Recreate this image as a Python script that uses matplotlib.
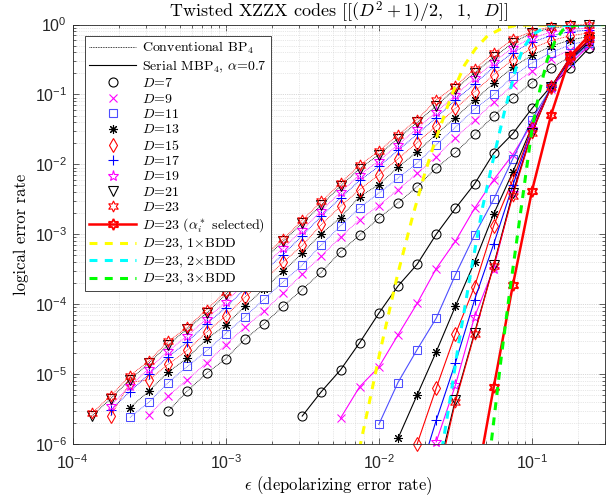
import numpy as np
import matplotlib.pyplot as plt
from matplotlib.lines import Line2D
from matplotlib.ticker import LogLocator, NullFormatter

# depolarizing error rates used in the simulations (8 points per decade)
eps_grid = [1.334e-4, 1.778e-4, 2.371e-4, 3.162e-4, 4.217e-4, 5.623e-4, 7.499e-4,
            1.0e-3, 1.334e-3, 1.778e-3, 2.371e-3, 3.162e-3, 4.217e-3, 5.623e-3, 7.499e-3,
            1.0e-2, 1.334e-2, 1.778e-2, 2.371e-2, 3.162e-2, 4.217e-2, 5.623e-2, 7.499e-2,
            0.1, 0.1334, 0.1778, 0.2371]

distances = [7, 9, 11, 13, 15, 17, 19, 21, 23]

# conventional BP4: (first grid index, log10 logical error rate)
conv_7 = (5, [-5.53, -5.24, -4.99, -4.78, -4.50, -4.28, -4.03, -3.79, -3.54, -3.25, -3.01, -2.77,
              -2.55, -2.32, -2.05, -1.83, -1.57, -1.31, -1.05, -0.83, -0.62, -0.46, -0.34])
conv_9 = (4, [-5.58, -5.31, -5.08, -4.84, -4.58, -4.33, -4.10, -3.84, -3.57, -3.31, -3.04, -2.79,
              -2.59, -2.36, -2.13, -1.89, -1.62, -1.37, -1.11, -0.86, -0.67, -0.49, -0.36, -0.28])
conv_11 = (3, [-5.62, -5.40, -5.12, -4.89, -4.67, -4.42, -4.18, -3.93, -3.68, -3.44, -3.15, -2.88,
               -2.62, -2.41, -2.20, -1.98, -1.72, -1.47, -1.21, -1.00, -0.74, -0.55, -0.40, -0.29, -0.22])
conv_13 = (3, [-5.48, -5.24, -4.97, -4.77, -4.50, -4.30, -4.03, -3.78, -3.53, -3.27, -2.99, -2.76,
               -2.46, -2.29, -2.04, -1.82, -1.57, -1.33, -1.08, -0.84, -0.61, -0.44, -0.31, -0.22, -0.17])
conv_15 = (2, [-5.60, -5.12, -5.08, -4.86, -4.66, -4.40, -4.17, -3.90, -3.66, -3.40, -3.16, -2.86,
               -2.60, -2.36, -2.15, -1.92, -1.69, -1.45, -1.20, -0.96, -0.72, -0.50, -0.34, -0.23,
               -0.16, -0.12])
conv_17 = (2, [-5.51, -5.25, -5.00, -4.75, -4.54, -4.28, -4.05, -3.78, -3.53, -3.29, -3.02, -2.74,
               -2.48, -2.23, -2.03, -1.80, -1.57, -1.33, -1.08, -0.85, -0.61, -0.40, -0.25, -0.16,
               -0.10, -0.08])
conv_19 = (2, [-5.45, -5.17, -4.92, -4.67, -4.45, -4.21, -3.97, -3.70, -3.45, -3.20, -2.94, -2.66,
               -2.40, -2.15, -1.95, -1.72, -1.49, -1.25, -1.01, -0.77, -0.54, -0.33, -0.19, -0.11,
               -0.07, -0.05])
conv_21 = (1, [-5.60, -5.35, -5.08, -4.84, -4.58, -4.35, -4.13, -3.86, -3.62, -3.36, -3.10, -2.84,
               -2.58, -2.31, -2.06, -1.86, -1.63, -1.40, -1.16, -0.92, -0.69, -0.47, -0.26, -0.12,
               -0.05, -0.02, -0.01])
conv_23 = (1, [-5.56, -5.31, -5.02, -4.81, -4.53, -4.33, -4.08, -3.82, -3.58, -3.31, -3.07, -2.80,
               -2.53, -2.27, -2.01, -1.81, -1.58, -1.36, -1.08, -0.88, -0.64, -0.41, -0.21, -0.10,
               -0.03, -0.01, 0.0])

# serial MBP4, alpha = 0.7
mbp_7 = (12, [-5.60, -5.25, -4.94, -4.55, -4.13, -3.74, -3.43, -3.00, -2.63, -2.28, -1.84, -1.56,
              -1.20, -0.88, -0.62, -0.33])
mbp_9 = (14, [-5.63, -5.18, -4.90, -4.44, -3.99, -3.49, -3.10, -2.63, -2.22, -1.86, -1.42, -0.92,
              -0.56, -0.30])
mbp_11 = (16, [-5.72, -5.12, -4.65, -4.20, -3.58, -3.01, -2.50, -1.92, -1.36, -0.90, -0.52, -0.27])
mbp_13 = (17, [-5.92, -5.30, -4.68, -4.03, -3.40, -2.71, -2.11, -1.46, -0.90, -0.50, -0.25])
mbp_15 = (18, [-6.0, -5.20, -4.43, -3.75, -2.88, -2.22, -1.48, -0.90, -0.48, -0.22])
mbp_17 = (18, [-6.55, -5.66, -4.84, -3.94, -3.14, -2.30, -1.50, -0.90, -0.48, -0.22])
mbp_19 = (19, [-5.97, -5.16, -4.18, -3.49, -2.41, -1.50, -0.90, -0.47, -0.22])
mbp_21 = (19, [-6.5, -5.37, -4.41, -3.44, -2.41, -1.55, -0.89, -0.47, -0.22])
mbp_23 = (19, [-6.6, -5.40, -4.43, -3.45, -2.45, -1.55, -0.90, -0.46, -0.21])

# D=23 with alpha_i* selected
sel_23 = (21, [-6.7, -5.19, -3.73, -2.38, -1.29, -0.45, -0.15])

# BDD reference curves (log10 eps, log10 error rate)
bdd1_x = [-2.16, -2.12, -2.05, -1.99, -1.88, -1.78, -1.70, -1.64, -1.56, -1.50, -1.44, -1.37,
          -1.29, -1.20, -1.10, -0.52]
bdd1_y = [-6.5, -6.0, -5.28, -4.66, -3.60, -2.75, -2.13, -1.72, -1.22, -0.88, -0.58, -0.35,
          -0.16, -0.06, -0.01, 0.0]
bdd2_x = [-1.62, -1.584, -1.53, -1.486, -1.40, -1.322, -1.25, -1.18, -1.104, -1.06, -1.00, -0.90, -0.52]
bdd2_y = [-6.5, -6.02, -5.30, -4.66, -3.55, -2.61, -1.90, -1.25, -0.62, -0.35, -0.15, -0.02, 0.0]
bdd3_x = [-1.30, -1.268, -1.20, -1.15, -1.10, -1.05, -1.00, -0.95, -0.90, -0.85, -0.80, -0.72, -0.52]
bdd3_y = [-6.6, -6.02, -4.75, -3.90, -3.10, -2.30, -1.50, -0.95, -0.50, -0.24, -0.08, -0.01, 0.0]

conv_sets = [conv_7, conv_9, conv_11, conv_13, conv_15, conv_17, conv_19, conv_21, conv_23]
mbp_sets = [mbp_7, mbp_9, mbp_11, mbp_13, mbp_15, mbp_17, mbp_19, mbp_21, mbp_23]

hexagram = (6, 1, 0)
markers = ['o', 'x', 's', (8, 2, 0), 'd', '+', '*', 'v', hexagram]
msizes = [6.5, 6, 6, 6.5, 7.5, 7, 8, 6.5, 8]
colors = ['k', (1, 0, 1), (0.3, 0.3, 1), 'k', (1, 0, 0), (0, 0, 1), (1, 0, 1), 'k', (1, 0, 0)]

plt.rcParams['font.family'] = 'serif'
plt.rcParams['font.serif'] = ['cmr10']
plt.rcParams['mathtext.fontset'] = 'cm'
plt.rcParams['axes.unicode_minus'] = False
plt.rcParams['mathtext.rm'] = 'Liberation Sans'
plt.rcParams['mathtext.it'] = 'Liberation Sans:italic'
plt.rcParams['mathtext.bf'] = 'Liberation Sans:bold'


def series(s):
    start, vals = s
    x = eps_grid[start - 1:start - 1 + len(vals)]
    return x, 10.0 ** np.array(vals), min(vals) >= -6.0


fig = plt.figure(figsize=(6.13, 5.04), dpi=100)
ax = fig.add_axes([0.1183, 0.119, 0.8687, 0.8323])
ax.set_xscale('log')
ax.set_yscale('log')

for i, d in enumerate(distances):
    x, y, inside = series(conv_sets[i])
    ax.plot(x, y, ls=(0, (1, 1)), lw=0.6, color=colors[i], marker=markers[i], ms=msizes[i],
            mfc='none', mew=0.75, clip_on=False)
    x, y, inside = series(mbp_sets[i])
    ax.plot(x, y, ls='-', lw=0.8, color=colors[i], marker=markers[i], ms=msizes[i],
            mfc='none', mew=0.75, clip_on=not inside)

x, y, inside = series(sel_23)
ax.plot(x, y, '-', lw=1.8, color='r', marker=hexagram, ms=8, mfc='none', mew=1.3)

bdd_colors = [(1, 1, 0), (0, 1, 1), (0, 1, 0)]
for bx, by, c in zip([bdd1_x, bdd2_x, bdd3_x], [bdd1_y, bdd2_y, bdd3_y], bdd_colors):
    ax.plot(10.0 ** np.array(bx), 10.0 ** np.array(by), color=c, lw=2.2, dashes=(2.6, 2.4))

ax.set_xlim(1e-4, 0.3)
ax.set_ylim(1e-6, 1)

ax.set_xticks([1e-4, 1e-3, 1e-2, 1e-1])
ax.set_xticklabels([r'$10^{-4}$', r'$10^{-3}$', r'$10^{-2}$', r'$10^{-1}$'],
                   math_fontfamily='custom', fontsize=11.5)
ax.set_yticks([1e-6, 1e-5, 1e-4, 1e-3, 1e-2, 1e-1, 1])
ax.set_yticklabels([r'$10^{-6}$', r'$10^{-5}$', r'$10^{-4}$', r'$10^{-3}$', r'$10^{-2}$',
                    r'$10^{-1}$', r'$10^{0}$'], math_fontfamily='custom', fontsize=11.5)
for axis in (ax.xaxis, ax.yaxis):
    axis.set_minor_locator(LogLocator(base=10, subs=np.arange(2, 10), numticks=20))
    axis.set_minor_formatter(NullFormatter())
ax.tick_params(which='both', direction='in', top=True, right=True, width=0.5, colors='0.15')
ax.tick_params(which='major', length=4)
ax.tick_params(which='minor', length=2)
ax.tick_params(axis='x', which='major', pad=7)
ax.tick_params(axis='y', which='major', pad=4)
ax.grid(True, which='major', ls=':', lw=0.5, color='0.7')
ax.grid(True, which='minor', ls=':', lw=0.5, color='0.82')
for sp in ax.spines.values():
    sp.set_linewidth(0.6)
    sp.set_color('0.15')

ax.set_title(r'Twisted XZZX codes $[[(D^2+1)/2,\ \ 1,\ \ D]]$', fontsize=13, pad=4)
ax.set_xlabel(r'$\epsilon$ (depolarizing error rate)', fontsize=12, labelpad=1)
ax.set_ylabel('logical error rate', fontsize=12, labelpad=4)

handles = [Line2D([], [], color='k', lw=0.6, ls=(0, (1, 1))),
           Line2D([], [], color='k', lw=0.8, ls='-')]
labels = [r'Conventional BP$_4$', r'Serial MBP$_4$, $\alpha$=0.7']
for i, d in enumerate(distances):
    handles.append(Line2D([], [], ls='none', color=colors[i], marker=markers[i], ms=msizes[i],
                          mfc='none', mew=0.8))
    labels.append(r'$D$=%d' % d)
handles.append(Line2D([], [], color='r', lw=1.8, marker=hexagram, ms=8, mfc='none', mew=1.3))
labels.append(r'$D$=23 ($\alpha_i^*$ selected)')
for k, c in enumerate(bdd_colors):
    handles.append(Line2D([], [], color=c, lw=2.2, dashes=(2.6, 2.4)))
    labels.append(r'$D$=23, %d$\times$BDD' % (k + 1))

leg = ax.legend(handles, labels, loc='upper left', bbox_to_anchor=(0.0235, 0.973),
                borderaxespad=0, fontsize=10, handlelength=3.4, handletextpad=0.4,
                labelspacing=0.17, borderpad=0.3, fancybox=False, framealpha=1,
                edgecolor='0.15')
leg.get_frame().set_linewidth(0.6)

fig.savefig('out.png', dpi=100)
